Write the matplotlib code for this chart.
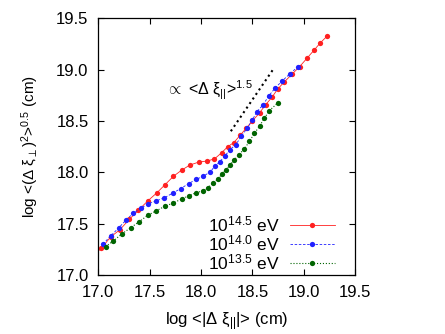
import numpy as np
import matplotlib
matplotlib.use("Agg")
import matplotlib.pyplot as plt

plt.rcParams['font.family'] = ['Liberation Sans', 'DejaVu Sans']
plt.rcParams['mathtext.fontset'] = 'custom'
plt.rcParams['mathtext.rm'] = 'Liberation Sans'
plt.rcParams['mathtext.it'] = 'Liberation Sans'
plt.rcParams['mathtext.sf'] = 'Liberation Sans'

# 10^14.5 eV
x_145 = [16.95, 17.03, 17.12, 17.21, 17.30, 17.39, 17.48, 17.57, 17.65, 17.73, 17.81,
         17.89, 17.98, 18.06, 18.13, 18.20, 18.26, 18.32, 18.38, 18.44, 18.50,
         18.57, 18.63, 18.69, 18.745, 18.81, 18.89, 18.96, 19.03, 19.10, 19.16, 19.23]
y_145 = [17.19, 17.26, 17.37, 17.44, 17.54, 17.63, 17.72, 17.80, 17.88, 17.96, 18.02,
         18.07, 18.10, 18.11, 18.13, 18.19, 18.25, 18.29, 18.36, 18.43, 18.50,
         18.58, 18.66, 18.73, 18.81, 18.88, 18.96, 19.03, 19.11, 19.19, 19.26, 19.33]

# 10^14.0 eV
x_140 = [17.045, 17.12, 17.20, 17.27, 17.34, 17.415, 17.48, 17.56, 17.64, 17.73, 17.80,
         17.88, 17.95, 18.02, 18.09, 18.135, 18.18, 18.23, 18.28, 18.34, 18.39,
         18.45, 18.50, 18.54, 18.605, 18.66, 18.72, 18.79, 18.865, 18.945]
y_140 = [17.30, 17.38, 17.46, 17.535, 17.60, 17.65, 17.69, 17.72, 17.75, 17.80, 17.84,
         17.89, 17.93, 17.96, 18.005, 18.06, 18.10, 18.155, 18.22, 18.27, 18.35,
         18.43, 18.51, 18.585, 18.66, 18.745, 18.82, 18.89, 18.96, 19.03]

# 10^13.5 eV
x_135 = [17.07, 17.145, 17.23, 17.315, 17.40, 17.48, 17.565, 17.65, 17.73, 17.81, 17.88,
         17.95, 18.02, 18.065, 18.12, 18.165, 18.20, 18.245, 18.28, 18.32, 18.365,
         18.42, 18.47, 18.52, 18.57, 18.615, 18.665, 18.745]
y_135 = [17.275, 17.33, 17.40, 17.46, 17.52, 17.58, 17.625, 17.67, 17.70, 17.74, 17.77,
         17.80, 17.82, 17.85, 17.895, 17.935, 17.98, 18.025, 18.07, 18.115, 18.17,
         18.225, 18.30, 18.38, 18.45, 18.525, 18.60, 18.675]

# power law guide  ~ x^1.5
guide_x = [18.29, 18.70]
guide_y = [18.40, 19.00]

ticks = [17.0, 17.5, 18.0, 18.5, 19.0, 19.5]

fig = plt.figure(figsize=(4.45, 3.34), dpi=100)
ax = fig.add_axes([0.221, 0.177, 0.577, 0.768])

ax.plot(x_145, y_145, '-', color='#ff2020', lw=0.6, marker='o', ms=3.8, mec='none',
        label=r'$10^{14.5}$ eV')
ax.plot(x_140, y_140, '--', color='#2020ff', lw=0.6, marker='o', ms=3.8, mec='none',
        dashes=(3, 2), label=r'$10^{14.0}$ eV')
ax.plot(x_135, y_135, ':', color='#006400', lw=0.8, marker='o', ms=3.8, mec='none',
        label=r'$10^{13.5}$ eV')
ax.plot(guide_x, guide_y, ':', color='black', lw=1.5)

ax.text(17.66, 18.75, r'$\propto$ <Δ ξ$_{||}$>$^{1.5}$', fontsize=11.5)

ax.set_xlim(17.0, 19.5)
ax.set_ylim(17.0, 19.5)
ax.set_xticks(ticks)
ax.set_yticks(ticks)
ax.set_xticklabels(['%.1f' % t for t in ticks])
ax.set_yticklabels(['%.1f' % t for t in ticks])
ax.tick_params(direction='in', top=True, right=True, length=4, width=0.8,
               labelsize=12, pad=7)
for s in ax.spines.values():
    s.set_linewidth(0.9)

ax.set_xlabel(r'log <|Δ ξ$_{||}$|> (cm)', fontsize=12, labelpad=8)
ax.set_ylabel(r'log <(Δ ξ$_{\perp}$)$^2$>$^{0.5}$ (cm)', fontsize=11, labelpad=11)

leg = ax.legend(loc='lower right', bbox_to_anchor=(0.975, -0.045), frameon=False,
                markerfirst=False, fontsize=12.5, handlelength=2.6, labelspacing=-0.05,
                handletextpad=0.6, borderpad=0.3)

fig.savefig('out.png', dpi=100)
